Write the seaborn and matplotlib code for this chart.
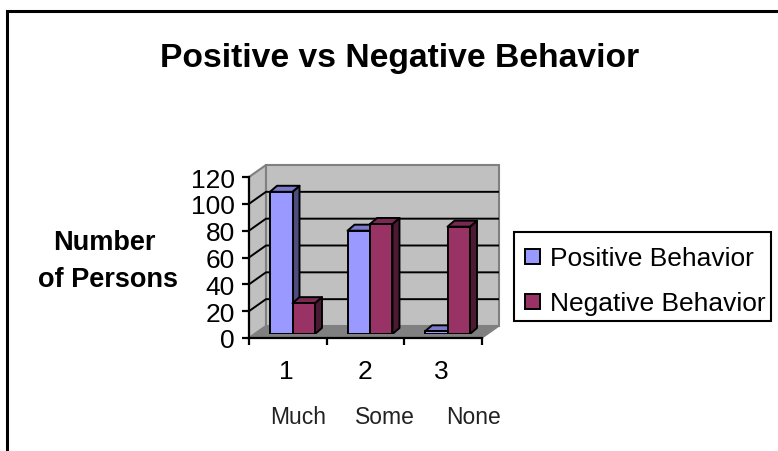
import matplotlib
matplotlib.use("Agg")
import matplotlib.pyplot as plt
from matplotlib.patches import Polygon
import pandas as pd
import seaborn as sns

# chart values
groups = ["1", "2", "3"]
group_names = ["Much", "Some", "None"]
positive = [106, 77, 2]
negative = [23, 82, 80]
y_ticks = [0, 20, 40, 60, 80, 100, 120]
series_names = ["Positive Behavior", "Negative Behavior"]

W, H = 778, 452
FRONT = "#9999FF", "#993366"
SIDE = "#4D4D80", "#4D1A33"
TOP = "#7A7ACC", "#7A2952"

sns.set_theme(style="white", rc={"text.color": "black", "ytick.color": "black", "xtick.color": "black"})
plt.rcParams["font.family"] = ["Liberation Sans", "DejaVu Sans"]

df = pd.DataFrame({
    "group": groups * 2,
    "count": positive + negative,
    "series": [series_names[0]] * 3 + [series_names[1]] * 3,
})

fig = plt.figure(figsize=(W / 100, H / 100), dpi=100)


def px_axes(x0, y0, x1, y1, **kw):
    return fig.add_axes([x0 / W, 1 - y1 / H, (x1 - x0) / W, (y1 - y0) / H], **kw)


# full figure layer in pixels for the box, walls and texts
bg = px_axes(0, 0, W, H)
bg.set_xlim(0, W)
bg.set_ylim(H, 0)
bg.axis("off")

bg.plot([7.5, 7.5, W], [H, 11.5, 11.5], color="black", lw=2.2, solid_joinstyle="miter")

# 3D box of the plot
fx0, fx1, fy0, fy1 = 249, 482, 339, 178   # front plane
dx, dy = 17, -12
bg.add_patch(Polygon([(fx0, fy0), (fx0 + dx, fy0 + dy), (fx0 + dx, fy1 + dy), (fx0, fy1)],
                     fc="#C0C0C0", ec="#808080", lw=1.5))
bg.add_patch(Polygon([(fx0 + dx, fy0 + dy), (fx1 + dx, fy0 + dy), (fx1 + dx, fy1 + dy), (fx0 + dx, fy1 + dy)],
                     fc="#C0C0C0", ec="#808080", lw=1.5))
bg.add_patch(Polygon([(fx0, fy0), (fx0 + dx, fy0 + dy), (fx1 + dx, fy0 + dy), (fx1, fy0)],
                     fc="#808080", ec="#808080", lw=1))

for v in y_ticks[1:-1]:
    y = fy0 + (fy1 - fy0) * v / 120
    bg.plot([fx0, fx0 + dx, fx1 + dx], [y, y + dy, y + dy], color="black", lw=1.4, solid_capstyle="butt")

# front plane axis with the ticks
axis_ax = px_axes(fx0, fy1, fx1, fy0)
axis_ax.patch.set_alpha(0)
axis_ax.set_xlim(0, 3)
axis_ax.set_ylim(0, 120)
axis_ax.set_yticks(y_ticks)
axis_ax.set_xticks([0, 1, 2, 3])
axis_ax.set_xticklabels([])
axis_ax.tick_params(axis="y", length=5, width=1.6, color="black", labelsize=19, pad=5, left=True)
axis_ax.tick_params(axis="x", length=5, width=1.6, color="black", bottom=True)
for name, sp in axis_ax.spines.items():
    sp.set_visible(name in ("left", "bottom"))
    sp.set_color("black")
    sp.set_linewidth(1.6)

# bars sit a little behind the front plane
bar_x0, bar_x1, bar_y0 = 253.75, 486.25, 335
bar_ax = px_axes(bar_x0, bar_y0 - 161, bar_x1, bar_y0)
bar_ax.patch.set_alpha(0)
sns.barplot(data=df, x="group", y="count", hue="series", palette=list(FRONT),
            width=0.58, gap=0, saturation=1, dodge=True, legend=False, ax=bar_ax,
            edgecolor="black", linewidth=1.4)
bar_ax.set_xlim(-0.5, 2.5)
bar_ax.set_ylim(0, 120)
bar_ax.axis("off")

# extrude each seaborn bar for the 3D look
depth_x, depth_y = 7, -6
to_px = bar_ax.transData + bg.transData.inverted()
for i, bar in enumerate(bar_ax.patches[:6]):
    s = i // 3
    x, h, w = bar.get_x(), bar.get_height(), bar.get_width()
    (xl, yb), (xr, yt) = to_px.transform([(x, 0), (x + w, h)])
    side = Polygon([(xr, yb), (xr + depth_x, yb + depth_y), (xr + depth_x, yt + depth_y), (xr, yt)],
                   fc=SIDE[s], ec="black", lw=1.4, transform=bg.transData, zorder=3 + s, joinstyle="round")
    top = Polygon([(xl, yt), (xl + depth_x, yt + depth_y), (xr + depth_x, yt + depth_y), (xr, yt)],
                  fc=TOP[s], ec="black", lw=1.4, transform=bg.transData, zorder=3 + s, joinstyle="round")
    bar_ax.add_patch(side)
    bar_ax.add_patch(top)
    bar.set_zorder(3.5 + s)

# texts
bg.text(399.5, 58, "Positive vs Negative Behavior", ha="center", va="center",
        fontsize=24.2, fontweight="bold", color="black")
bg.text(104, 243, "Number", ha="center", va="center", fontsize=19.5, fontweight="bold")
bg.text(108.5, 280, "of Persons", ha="center", va="center", fontsize=19.5, fontweight="bold")

for x, label in zip([286, 365, 441], groups):
    bg.text(x, 372, label, ha="center", va="center", fontsize=19)
for x, label in zip([298, 385, 474], group_names):
    bg.text(x, 418, label, ha="center", va="center", fontsize=16.5, color="#222222")

# legend box
bg.add_patch(Polygon([(514.5, 232.5), (771.5, 232.5), (771.5, 321.5), (514.5, 321.5)],
                     fc="white", ec="black", lw=1.5))
for y, name, col in zip([257, 302], series_names, FRONT):
    bg.add_patch(Polygon([(525, y - 7.5), (540.5, y - 7.5), (540.5, y + 7.5), (525, y + 7.5)],
                         fc=col, ec="black", lw=1.4))
    bg.text(550, y + 2, name, ha="left", va="center", fontsize=19)

fig.savefig("out.png", dpi=100)
